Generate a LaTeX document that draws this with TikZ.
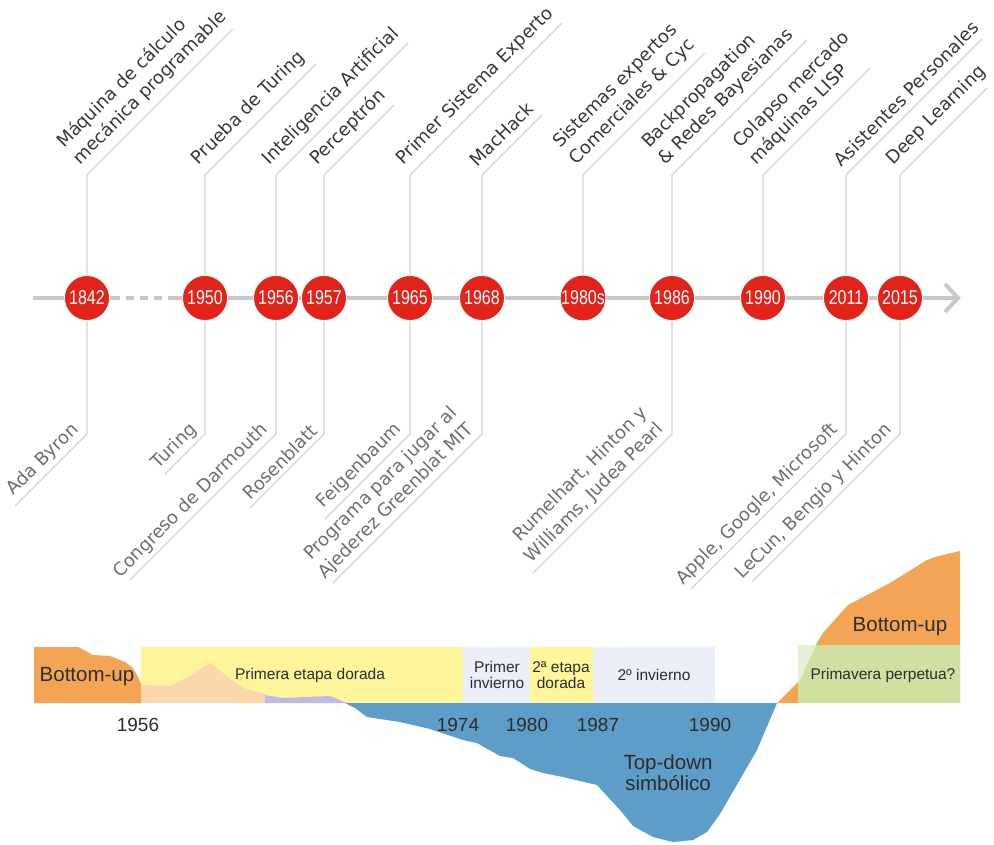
\documentclass[tikz,border=0pt]{standalone}
\usepackage{fontspec}
\setmainfont{DejaVu Sans}
\newfontfamily\labelfont{DejaVu Sans}
\newfontfamily\dinfont{Liberation Sans}
\newfontfamily\dincond[FakeStretch=0.8]{Liberation Sans}
\usetikzlibrary{calc}

\definecolor{tlred}{RGB}{226,35,26}
\definecolor{axisgray}{RGB}{200,200,200}
\definecolor{leadgray}{RGB}{212,212,212}
\definecolor{toptext}{RGB}{55,55,55}
\definecolor{bottext}{RGB}{110,110,110}
\definecolor{buorange}{RGB}{243,164,85}
\definecolor{peach}{RGB}{251,216,170}
\definecolor{lavender}{RGB}{190,186,225}
\definecolor{golden}{RGB}{255,245,155}
\definecolor{winter}{RGB}{236,238,248}
\definecolor{tdblue}{RGB}{94,157,200}
\definecolor{spring}{RGB}{207,224,160}
\definecolor{springpale}{RGB}{230,240,212}
\definecolor{ink}{RGB}{45,45,45}

\begin{document}
\begin{tikzpicture}[x=1pt,y=-1pt,
  year/.style={circle,fill=tlred,draw=white,line width=0.8pt,minimum size=45pt,
    inner sep=0pt,text=white,font=\dincond\fontsize{20}{20}\selectfont},
  lead/.style={draw=leadgray,line width=1.1pt},
  toplab/.style={rotate=45,anchor=south west,align=left,inner sep=2pt,
    text=toptext,font=\labelfont\fontsize{18}{23}\selectfont},
  botlab/.style={rotate=45,anchor=south east,align=right,inner sep=2pt,
    text=bottext,font=\labelfont\fontsize{18}{23}\selectfont},
  axisline/.style={draw=axisgray,line width=4pt},
  bandtext/.style={font=\dinfont\fontsize{15.5}{16.5}\selectfont,text=ink,align=center,inner sep=0pt},
  bigtext/.style={font=\dinfont\fontsize{20.5}{21}\selectfont,text=ink,align=center,inner sep=0pt},
  yeartext/.style={font=\dinfont\fontsize{19}{19}\selectfont,text=ink,inner sep=0pt}
]
\useasboundingbox (0,0) rectangle (994,845);

% ---------- time axis ----------
\coordinate (axL) at (33,298);
\coordinate (axD1) at (120,298);
\coordinate (axD2) at (126,298);
\coordinate (axD3) at (162,298);
\coordinate (axD4) at (168,298);
\coordinate (axR) at (958,298);
\coordinate (chevU) at (945,284);
\coordinate (chevD) at (945,312);
\draw[axisline] (axL) -- (axD1);
\draw[axisline,dash pattern=on 8pt off 6pt] (axD2) -- (axD3);
\draw[axisline] (axD4) -- (axR);
\draw[axisline,line join=miter] (chevU) -- (axR) -- (chevD);

% ---------- year markers ----------
\foreach \n/\x in {1842/87,1950/205,1956/276,1957/324,1965/410,1968/482,
                   1980s/583,1986/672,1990/763,2011/846,2015/900}
  \node[year] (y\n) at (\x,298) {\n};

% ---------- leaders above the axis ----------
\foreach \n/\x/\L in {1842/87/146,1950/205/111,1956/276/132,1957/324/70,
                      1965/410/152,1968/482/60,1980s/583/122,1986/672/135,
                      1990/763/107,2011/846/136,2015/900/87}{
  \coordinate (tb\n) at (\x,175);
  \coordinate (te\n) at (\x+\L,175-\L);
  \draw[lead] (y\n.north) -- (tb\n) -- (te\n);
}

% ---------- leaders below the axis ----------
\foreach \n/\x/\L in {1842/87/72,1950/205/40,1956/276/146,1957/324/74,
                      1965/410/85,1968/482/149,1986/672/139,2011/846/155,
                      2015/900/148}{
  \coordinate (bb\n) at (\x,434);
  \coordinate (be\n) at (\x-\L,434+\L);
  \draw[lead] (y\n.south) -- (bb\n) -- (be\n);
}

% ---------- milestones ----------
\node[toplab] (m1842) at (83,171) {Máquina de cálculo\\mecánica programable};
\node[toplab] (m1950) at (201,171) {Prueba de Turing};
\node[toplab] (m1956) at (272,171) {Inteligencia Artificial};
\node[toplab] (m1957) at (320,171) {Perceptrón};
\node[toplab] (m1965) at (406,171) {Primer Sistema Experto};
\node[toplab] (m1968) at (478,171) {MacHack};
\node[toplab] (m1980s) at (579,171) {Sistemas expertos\\Comerciales \& Cyc};
\node[toplab] (m1986) at (668,171) {Backpropagation\\\& Redes Bayesianas};
\node[toplab] (m1990) at (759,171) {Colapso mercado\\máquinas LISP};
\node[toplab] (m2011) at (842,171) {Asistentes Personales};
\node[toplab] (m2015) at (896,171) {Deep Learning};

% ---------- people ----------
\node[botlab] (p1842) at (85,433) {Ada Byron};
\node[botlab] (p1950) at (203,433) {Turing};
\node[botlab] (p1956) at (274,433) {Congreso de Darmouth};
\node[botlab] (p1957) at (322,433) {Rosenblatt};
\node[botlab] (p1965) at (408,433) {Feigenbaum};
\node[botlab] (p1968) at (480,433) {Programa para jugar al\\Ajederez Greenblat MIT};
\node[botlab] (p1986) at (670,433) {Rumelhart, Hinton y\\Williams, Judea Pearl};
\node[botlab] (p2011) at (844,433) {Apple, Google, Microsoft};
\node[botlab] (p2015) at (898,433) {LeCun, Bengio y Hinton};

% ---------- eras chart ----------
\fill[golden] (141,647) rectangle (463,703);
\fill[winter] (463,647) rectangle (530,703);
\fill[golden] (530,647) rectangle (593,703);
\fill[winter] (593,647) rectangle (715,703);

% early bottom-up
\fill[buorange] (34,647) -- (78,647) -- (93,655) -- (110,656) -- (125,662)
  -- (133,668) -- (138,677) -- (141,684) -- (141,703) -- (34,703) -- cycle;
\fill[peach] (141,685) -- (170,686) -- (190,676) -- (210,663) -- (228,677)
  -- (243,688) -- (265,694) -- (265,703) -- (141,703) -- cycle;
\fill[lavender] (265,695) -- (282,698) -- (330,696) -- (347,703)
  -- (265,703) -- cycle;

% symbolic top-down
\fill[tdblue] (345,703) -- (355,708) -- (367,717) -- (400,722) -- (430,729)
  -- (463,740) -- (477,743) -- (500,756) -- (513,758) -- (530,769)
  -- (543,773) -- (563,777) -- (597,785) -- (607,796) -- (620,810)
  -- (633,826) -- (653,837) -- (673,842) -- (693,840) -- (707,832)
  -- (720,814) -- (757,750) -- (777,703) -- cycle;

% recent bottom-up
\fill[buorange] (777,703) -- (800,680) -- (817,643) -- (823,633) -- (848,605)
  -- (890,583) -- (927,560) -- (935,557) -- (960,551) -- (960,703) -- cycle;
\fill[spring] (798,645) rectangle (960,703);
\fill[springpale] (798,645) -- (816,645) -- (800,680) -- (798,683) -- cycle;

% chart texts
\node[bigtext] (bu1) at (87,677) {Bottom-up};
\node[bandtext] (era1) at (310,675) {Primera etapa dorada};
\node[bandtext] (era2) at (497,675) {Primer\\invierno};
\node[bandtext] (era3) at (561,675) {2ª etapa\\dorada};
\node[bandtext] (era4) at (654,675) {2º invierno};
\node[bandtext] (era5) at (883,675) {Primavera perpetua?};
\node[bigtext] (bu2) at (900,627) {Bottom-up};
\node[bigtext] (td) at (668,773) {Top-down\\simbólico};

\node[yeartext] (a1956) at (138,725) {1956};
\node[yeartext] (a1974) at (458,725) {1974};
\node[yeartext] (a1980) at (527,725) {1980};
\node[yeartext] (a1987) at (598,725) {1987};
\node[yeartext] (a1990) at (710,725) {1990};
\end{tikzpicture}
\end{document}
